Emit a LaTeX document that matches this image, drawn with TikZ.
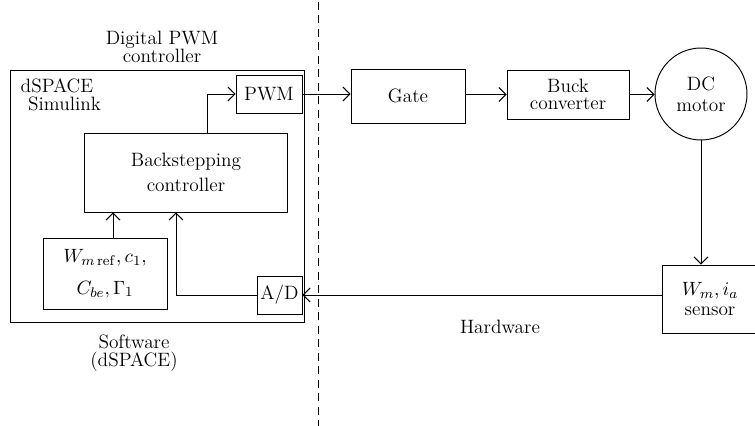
\documentclass[tikz,border=0pt]{standalone}
\usepackage{tikz}
\usetikzlibrary{arrows.meta}
\usepackage{amsmath}

\tikzset{
  blk/.style={draw, line width=0.55pt, inner sep=1pt, align=center,
    font=\fontsize{11}{12}\selectfont},
  lbl/.style={align=center, inner sep=0pt, font=\fontsize{11}{10}\selectfont},
  flow/.style={line width=0.55pt, -{Straight Barb[length=1.4mm,width=2.8mm]}}
}

\begin{document}
\begin{tikzpicture}[x=0.02cm,y=-0.02cm]
\useasboundingbox (0,0) rectangle (755,426);
% software side
\node[blk, minimum width=5.9cm, minimum height=5.06cm] (dspace) at (157.5,196.5) {};
\node[lbl] (dlabel) at (162,47) {Digital PWM\\controller};
\node[lbl] (simlabel) at (57,95) {dSPACE\\\hspace{0.3cm}Simulink};
\node[blk, minimum width=1.32cm, minimum height=0.76cm] (pwm) at (269,94) {PWM};
\node[blk, minimum width=4.08cm, minimum height=1.58cm,
  font=\fontsize{11}{14}\selectfont] (back) at (186,172.5) {Backstepping\\controller};
\node[blk, minimum width=2.48cm, minimum height=1.42cm] (param) at (105,273.5)
  {$W_{m\,\mathrm{ref}}, c_1,$\\[6pt]$C_{be}, \Gamma_1$};
\node[blk, minimum width=0.9cm, minimum height=0.76cm] (ad) at (279.5,295) {A/D};
\node[lbl] (swlabel) at (134,353) {Software\\(dSPACE)};
% hardware side
\node[blk, minimum width=2.28cm, minimum height=1.08cm] (gate) at (408,96) {Gate};
\node[blk, minimum width=2.44cm, minimum height=0.98cm,
  font=\fontsize{11}{10}\selectfont] (buck) at (568,94.5) {Buck\\converter};
\node[blk, circle, minimum size=1.84cm] (motor) at (701,94) {DC\\motor};
\node[blk, minimum width=1.92cm, minimum height=1.36cm,
  font=\fontsize{11}{11.5}\selectfont] (sensor) at (710,299) {$W_m, i_a$\\sensor};
\node[lbl] (hwlabel) at (500,327) {Hardware};
% split between software and hardware
\coordinate (top) at (318,2);
\coordinate (bot) at (318,426);
\draw[line width=0.5pt, dash pattern=on 0.16cm off 0.11cm] (top) -- (bot);
% signal flow
\draw[flow] ([xshift=0.42cm]back.north) |- (pwm.west);
\draw[flow] (pwm.east) -- (pwm.east -| gate.west);
\draw[flow] (gate.east |- buck.west) -- (buck.west);
\draw[flow] (buck.east) -- (buck.east -| motor.west);
\draw[flow] (motor.south) -- (motor.south |- sensor.north);
\draw[flow] (ad.east -| sensor.west) -- (ad.east);
\draw[flow] (ad.west) -| ([xshift=-0.2cm]back.south);
\draw[flow] ([xshift=0.16cm]param.north) -- ([xshift=0.16cm]param.north |- back.south);
\end{tikzpicture}
\end{document}
